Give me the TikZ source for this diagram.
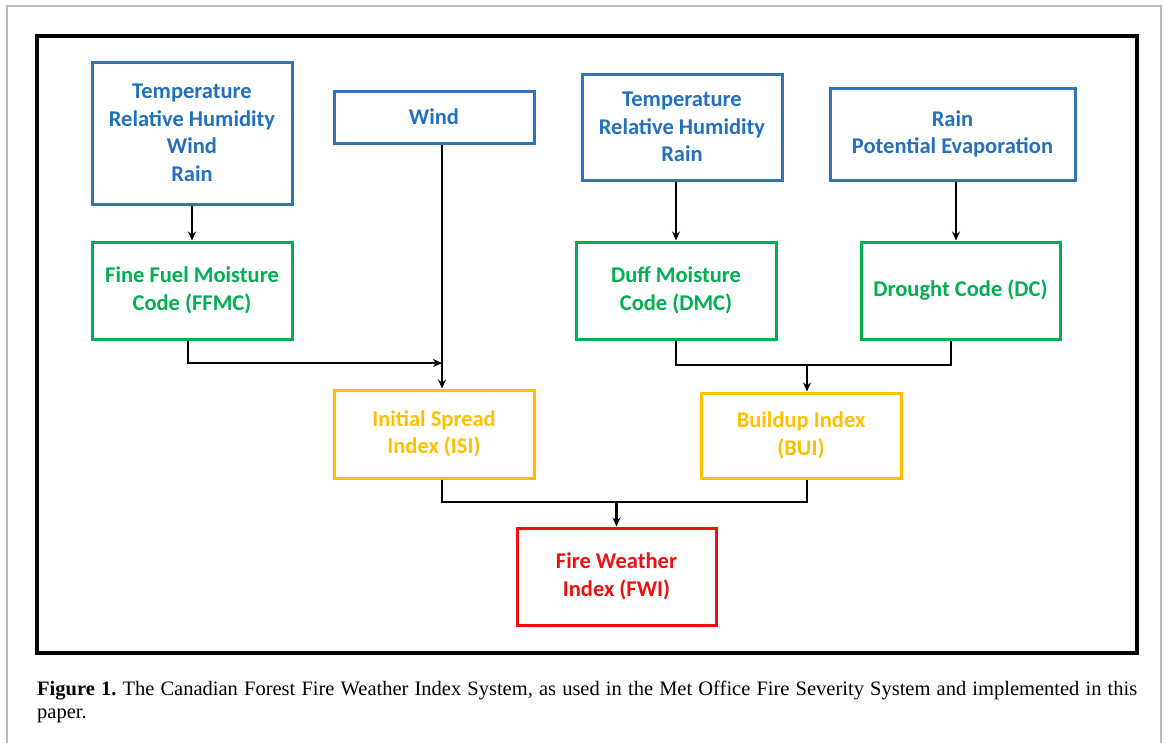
\documentclass[tikz,border=0pt]{standalone}
\usepackage{fontspec}
\setmainfont{Liberation Serif}
\newfontfamily\boxfont{Carlito}
\usetikzlibrary{arrows.meta}
\definecolor{bblue}{HTML}{2E75B6}
\definecolor{tblue}{HTML}{2270BE}
\definecolor{ggreen}{HTML}{00B050}
\definecolor{ggold}{HTML}{FFC000}
\definecolor{rred}{HTML}{F01010}
\tikzset{
  fbox/.style={draw, rectangle, line width=3pt, inner sep=0pt, align=center,
    font=\boxfont\bfseries\fontsize{22.5}{27.5}\selectfont},
  inbox/.style={fbox, draw=bblue, text=tblue},
  codebox/.style={fbox, draw=ggreen, text=ggreen},
  idxbox/.style={fbox, draw=ggold, text=ggold},
  fwibox/.style={fbox, draw=rred, text=rred},
  conn/.style={draw=black, line width=2.3pt},
  arr/.style={conn, -{Stealth[length=9pt,width=8pt]}}
}
\begin{document}
\frenchspacing
\begin{tikzpicture}[x=1pt,y=-1pt]
\useasboundingbox (0,0) rectangle (1167,742);
\fill[white] (0,0) rectangle (1167,742);
% outer figure frame
\draw[gray!55, line width=1.5pt] (7,760) -- (7,6) -- (1161,6) -- (1161,760);
% diagram frame
\draw[line width=3.5pt] (37,36) rectangle (1137,653);

% inputs
\node[inbox, minimum width=200pt, minimum height=142pt] (in1) at (192,133) {Temperature\\Relative Humidity\\Wind\\Rain};
\node[inbox, minimum width=200pt, minimum height=52pt] (wind) at (434,117) {Wind};
\node[inbox, minimum width=200pt, minimum height=106pt] (in3) at (682,127) {Temperature\\Relative Humidity\\Rain};
\node[inbox, minimum width=245pt, minimum height=92pt] (in4) at (952.5,134) {Rain\\Potential Evaporation};

% codes
\node[codebox, minimum width=200pt, minimum height=97pt] (ffmc) at (192,290.5) {Fine Fuel Moisture\\Code (FFMC)};
\node[codebox, minimum width=200pt, minimum height=97pt] (dmc) at (676,290.5) {Duff Moisture\\Code (DMC)};
\node[codebox, minimum width=199pt, minimum height=97pt] (dc) at (960.5,290.5) {Drought Code (DC)};

% indices
\node[idxbox, minimum width=200pt, minimum height=88pt] (isi) at (434,434) {Initial Spread\\Index (ISI)};
\node[idxbox, minimum width=200pt, minimum height=85pt] (bui) at (801,435.5) {Buildup Index\\(BUI)};
\node[fwibox, minimum width=199pt, minimum height=97pt] (fwi) at (616.5,576.5) {Fire Weather\\Index (FWI)};

% junction coordinates
\coordinate (xw) at (442,0);
\coordinate (xf) at (188,0);
\coordinate (xd) at (956,0);
\coordinate (xdc) at (951,0);
\coordinate (j1) at (442,363);
\coordinate (j2) at (807,365);
\coordinate (j3) at (616.5,502);

% connectors
\draw[arr] (in1.south) -- (ffmc.north);
\draw[arr] (wind.south -| xw) -- (isi.north -| xw);
\draw[arr] (ffmc.south -| xf) |- (j1);
\draw[arr] (in3.south -| dmc.north) -- (dmc.north);
\draw[arr] (in4.south -| xd) -- (dc.north -| xd);
\draw[conn] (dmc.south) |- (j2 -| xdc) -- (dc.south -| xdc);
\draw[arr] (j2) -- (bui.north -| j2);
\draw[conn] (isi.south -| xw) |- (j3 -| j2) -- (bui.south -| j2);
\draw[arr] (j3) -- (fwi.north);

% caption
\node[anchor=north west, inner sep=0pt, text width=1100pt, align=justify,
  font=\fontsize{20.5}{22.5}\selectfont] (cap) at (37,681)
  {\textbf{Figure 1.} The Canadian Forest Fire Weather Index System, as used in the Met Office Fire Severity System and implemented in this paper.};
\end{tikzpicture}
\end{document}
